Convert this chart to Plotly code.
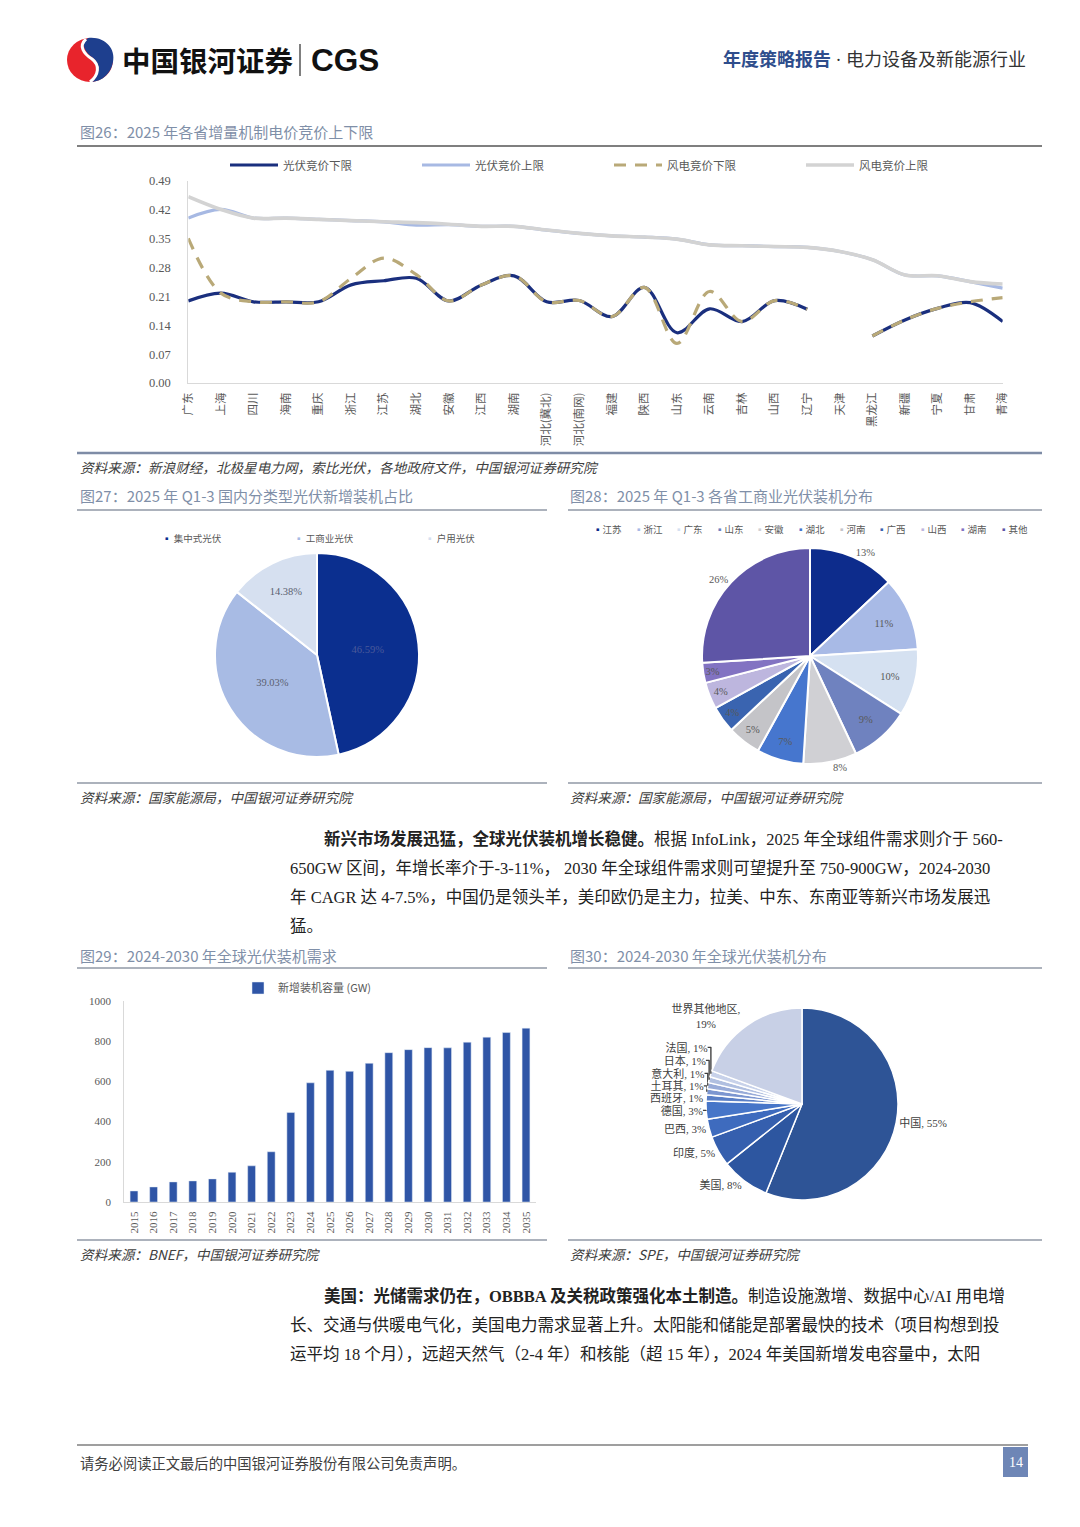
import plotly.graph_objects as go

# page body has an 8px margin: draw on a 1064x1511 paper so the page fills the 1080x1527 window
OFF = 8
W, H = 1080 - 2 * OFF, 1527 - 2 * OFF
def fx(p): return (p - OFF) / W
def fy(p): return 1 - (p - OFF) / H

SERIF = "Liberation Serif, Noto Sans CJK SC"
SANS = "Noto Sans CJK SC"

# ---------------- Figure 26 data ----------------
provinces = ["广东", "上海", "四川", "海南", "重庆", "浙江", "江苏", "湖北", "安徽", "江西", "湖南",
             "河北(冀北)", "河北(南网)", "福建", "陕西", "山东", "云南", "吉林", "山西", "辽宁", "天津",
             "黑龙江", "新疆", "宁夏", "甘肃", "青海"]
pv_low = [0.199, 0.218, 0.197, 0.197, 0.197, 0.238, 0.248, 0.254, 0.199, 0.238, 0.260, 0.197, 0.200,
          0.161, 0.232, 0.122, 0.180, 0.149, 0.200, 0.179, None, 0.114, 0.153, 0.181, 0.195, 0.149]
pv_high = [0.400, 0.421, 0.400, 0.400, 0.397, 0.394, 0.391, 0.383, 0.384, 0.380, 0.380, 0.371, 0.363,
           0.357, 0.354, 0.349, 0.335, 0.333, 0.331, 0.329, 0.319, 0.299, 0.262, 0.260, 0.246, 0.230]
wind_low = [0.351, 0.218, 0.197, 0.197, 0.197, 0.254, 0.303, 0.263, 0.199, 0.238, 0.260, 0.197, 0.200,
            0.161, 0.232, 0.096, 0.222, 0.149, 0.200, 0.179, None, 0.114, 0.153, 0.181, 0.197, 0.207]
wind_high = [0.452, 0.421, 0.400, 0.400, 0.397, 0.394, 0.391, 0.389, 0.385, 0.380, 0.380, 0.371, 0.363,
             0.357, 0.354, 0.349, 0.335, 0.333, 0.331, 0.329, 0.319, 0.299, 0.262, 0.260, 0.246, 0.240]
line_names = ["光伏竞价下限", "光伏竞价上限", "风电竞价下限", "风电竞价上限"]
y_ticks26 = [0.00, 0.07, 0.14, 0.21, 0.28, 0.35, 0.42, 0.49]

# ---------------- Figure 27 data ----------------
pie27_labels = ["集中式光伏", "工商业光伏", "户用光伏"]
pie27_values = [46.59, 39.03, 14.38]

# ---------------- Figure 28 data ----------------
pie28_labels = ["江苏", "浙江", "广东", "山东", "安徽", "湖北", "河南", "广西", "山西", "湖南", "其他"]
pie28_values = [13, 11, 10, 9, 8, 7, 5, 4, 4, 3, 26]

# ---------------- Figure 29 data ----------------
years = [str(y) for y in range(2015, 2036)]
capacity = [55, 75, 100, 105, 115, 148, 180, 250, 445, 593, 655, 650, 690, 743, 758, 768, 767, 795, 820, 843, 865]
bar_name = "新增装机容量 (GW)"

# ---------------- Figure 30 data ----------------
pie30_labels = ["中国", "美国", "印度", "巴西", "德国", "西班牙", "土耳其", "意大利", "日本", "法国", "世界其他地区"]
pie30_values = [55, 8, 5, 3, 3, 1, 1, 1, 1, 1, 19]

# ---------------- styles ----------------
line_colors = ["#1A2F7E", "#A7B9E3", "#B9A978", "#D3D3D3"]
line_dash = ["solid", "solid", "12px,9px", "solid"]
line_width = [3.2, 3.2, 3.2, 3.6]
pie27_colors = ["#0B2F8F", "#A8BBE4", "#D6E0F0"]
pie27_text = ["#4A5A9A", "#5A6070", "#5A6070"]
pie28_colors = ["#0D2C8C", "#A8BAE6", "#D5E1F1", "#6F82BF", "#D0D0D4", "#4676CE", "#C4C4C8",
                "#3A64B0", "#BDB6DE", "#8273C2", "#5E55A6"]
pie28_pos = ["outside", "inside", "inside", "inside", "outside", "inside", "inside", "inside",
             "inside", "inside", "outside"]
pie30_colors = ["#2E5496", "#2D56A0", "#355FAE", "#3E6BBE", "#4675C8", "#5A7FC6", "#7C96D0",
                "#98ABD8", "#B0BFE0", "#C8D2EA", "#C8D0E6"]
bar_color = "#2F55A6"

fig = go.Figure()

# line chart
series = [pv_low, pv_high, wind_low, wind_high]
for name, vals, c, d, w in zip(line_names, series, line_colors, line_dash, line_width):
    fig.add_trace(go.Scatter(x=provinces, y=vals, name=name, mode="lines",
                             line=dict(color=c, width=w, dash=d, shape="spline", smoothing=1.0),
                             connectgaps=False, xaxis="x", yaxis="y", legend="legend"))

# pie 27
fig.add_trace(go.Pie(labels=pie27_labels, values=pie27_values, sort=False, direction="clockwise",
                     text=[f"{v:.2f}%" for v in pie27_values], textinfo="text",
                     textposition="inside", insidetextorientation="horizontal",
                     textfont=dict(family=SERIF, size=10.5, color=pie27_text),
                     marker=dict(colors=pie27_colors, line=dict(color="white", width=2)),
                     domain=dict(x=[fx(215), fx(419)], y=[fy(757), fy(553)]),
                     showlegend=False, hoverinfo="label+value"))

# pie 28
fig.add_trace(go.Pie(labels=pie28_labels, values=pie28_values, sort=False, direction="clockwise",
                     text=[f"{v}%" for v in pie28_values], textinfo="text",
                     textposition=pie28_pos, insidetextorientation="horizontal",
                     textfont=dict(family=SERIF, size=10.5, color="#595959"),
                     outsidetextfont=dict(family=SERIF, size=10.5, color="#595959"),
                     marker=dict(colors=pie28_colors, line=dict(color="white", width=2)),
                     domain=dict(x=[fx(702), fx(918)], y=[fy(764), fy(548)]),
                     showlegend=False, hoverinfo="label+value"))

# bar 29
fig.add_trace(go.Bar(x=years, y=capacity, name=bar_name, marker=dict(color=bar_color),
                     xaxis="x2", yaxis="y2", legend="legend2"))

# pie 30
pie30_text = [(f"{l},<br>{v}%" if len(l) > 4 else f"{l}, {v}%") for l, v in zip(pie30_labels, pie30_values)]
fig.add_trace(go.Pie(labels=pie30_labels, values=pie30_values, sort=False, direction="clockwise",
                     text=pie30_text, textinfo="text", textposition="outside",
                     textfont=dict(family=SERIF, size=11, color="#404040"),
                     marker=dict(colors=pie30_colors, line=dict(color="white", width=1.5)),
                     domain=dict(x=[fx(706), fx(898)], y=[fy(1201), fy(1007)]),
                     showlegend=False, hoverinfo="label+value", automargin=False))

ann = []
def text(x, y, s, size=14, color="#404040", family=SANS, anchor="left", italic=False):
    if italic:
        s = f"<i>{s}</i>"
    ann.append(dict(x=fx(x), y=fy(y), xref="paper", yref="paper", text=s, showarrow=False,
                    xanchor=anchor, yanchor="middle", font=dict(size=size, color=color, family=family)))

# header
text(120, 60, "<b>中国银河证券</b>", size=28.5, color="#111111")
text(309, 60, "<b>CGS</b>", size=31.5, color="#111111", family="Liberation Sans, Arial")
text(1028, 60, "<b><span style='color:#2E4D8C'>年度策略报告</span></b><span style='color:#333333'> · 电力设备及新能源行业</span>",
     size=18, color="#333333", family=SERIF, anchor="right")

TCOL = "#7F8FA8"
TS = 15
SS = 13.6
text(78, 131, "图26：2025 年各省增量机制电价竞价上下限", size=TS, color=TCOL)
text(78, 467, "资料来源：新浪财经，北极星电力网，索比光伏，各地政府文件，中国银河证券研究院", size=SS, italic=True)
text(78, 496, "图27：2025 年 Q1-3 国内分类型光伏新增装机占比", size=TS, color=TCOL)
text(568, 496, "图28：2025 年 Q1-3 各省工商业光伏装机分布", size=TS, color=TCOL)
text(78, 797, "资料来源：国家能源局，中国银河证券研究院", size=SS, italic=True)
text(568, 797, "资料来源：国家能源局，中国银河证券研究院", size=SS, italic=True)
text(78, 955, "图29：2024-2030 年全球光伏装机需求", size=TS, color=TCOL)
text(568, 955, "图30：2024-2030 年全球光伏装机分布", size=TS, color=TCOL)
text(78, 1254, "资料来源：BNEF，中国银河证券研究院", size=SS, italic=True)
text(568, 1254, "资料来源：SPE，中国银河证券研究院", size=SS, italic=True)

BODY = "#222222"
BS = 16.5
para1 = ["<b>新兴市场发展迅猛，全球光伏装机增长稳健。</b>根据 InfoLink，2025 年全球组件需求则介于 560-",
         "650GW 区间，年增长率介于-3-11%， 2030 年全球组件需求则可望提升至 750-900GW，2024-2030",
         "年 CAGR 达 4-7.5%，中国仍是领头羊，美印欧仍是主力，拉美、中东、东南亚等新兴市场发展迅",
         "猛。"]
for i, s in enumerate(para1):
    text(322 if i == 0 else 288, 839 + i * 29.3, s, size=BS, color=BODY, family=SERIF)
para2 = ["<b>美国：光储需求仍在，OBBBA 及关税政策强化本土制造。</b>制造设施激增、数据中心/AI 用电增",
         "长、交通与供暖电气化，美国电力需求显著上升。太阳能和储能是部署最快的技术（项目构想到投",
         "运平均 18 个月），远超天然气（2-4 年）和核能（超 15 年），2024 年美国新增发电容量中，太阳"]
for i, s in enumerate(para2):
    text(322 if i == 0 else 288, 1296 + i * 29.3, s, size=BS, color=BODY, family=SERIF)

text(78, 1462, "请务必阅读正文最后的中国银河证券股份有限公司免责声明。", size=14.3, color="#404040")
text(1015.5, 1462, "14", size=14, color="white", family=SERIF, anchor="center")

# manual pie legends (from data)
for i, (lab, col) in enumerate(zip(pie27_labels, pie27_colors)):
    text(160 + i * 131.5, 538, f"<span style='color:{col}'>▪</span> {lab}", size=9.5, color="#595959")
for i, (lab, col) in enumerate(zip(pie28_labels, pie28_colors)):
    text(591 + i * 40.6, 529, f"<span style='color:{col}'>▪</span>{lab}", size=9.5, color="#595959")

shapes = []
def hline(x0, x1, y, color, width):
    shapes.append(dict(type="line", xref="paper", yref="paper", x0=fx(x0), x1=fx(x1), y0=fy(y), y1=fy(y),
                       line=dict(color=color, width=width)))
hline(77, 1042, 146, "#7F7F7F", 2)
hline(77, 1042, 453, "#7E8CA6", 2.5)
for y in (510, 783, 968, 1240):
    hline(77, 547, y, "#9098A6", 1.6)
    hline(568, 1042, y, "#9098A6", 1.6)
hline(77, 1028, 1445, "#7F7F7F", 1.5)
shapes.append(dict(type="rect", xref="paper", yref="paper", x0=fx(1003), x1=fx(1028), y0=fy(1477), y1=fy(1447),
                   fillcolor="#6E86B6", line=dict(width=0), layer="below"))
# header divider
shapes.append(dict(type="line", xref="paper", yref="paper", x0=fx(300), x1=fx(300), y0=fy(44), y1=fy(76),
                   line=dict(color="#555555", width=1.5)))

# logo
def pth(pts):
    out = []
    for cmd, coords in pts:
        if coords:
            out.append(cmd + " " + " ".join(f"{fx(a):.5f},{fy(b):.5f}" for a, b in coords))
        else:
            out.append(cmd)
    return " ".join(out)
shapes.append(dict(type="circle", xref="paper", yref="paper", x0=fx(67), x1=fx(113), y0=fy(82), y1=fy(38),
                   fillcolor="#E8242C", line=dict(width=0)))
blue = pth([("M", [(88, 38)]), ("C", [(104, 36), (116, 48), (113, 62)]), ("C", [(111, 74), (102, 81), (92, 82)]),
            ("C", [(100, 74), (101, 64), (93, 58)]), ("C", [(85, 52), (80, 44), (88, 38)]), ("Z", None)])
shapes.append(dict(type="path", xref="paper", yref="paper", path=blue, fillcolor="#1E3F8E", line=dict(width=0)))
swoosh = pth([("M", [(86, 39)]), ("C", [(78, 46), (84, 54), (92, 59)]), ("C", [(100, 65), (99, 75), (90, 82)])])
shapes.append(dict(type="path", xref="paper", yref="paper", path=swoosh, line=dict(color="white", width=3)))

fig.update_layout(
    width=W, height=H, autosize=False, margin=dict(l=0, r=0, t=0, b=0, pad=0, autoexpand=False),
    paper_bgcolor="white", plot_bgcolor="white",
    font=dict(family=SERIF, size=12, color="#595959"),
    xaxis=dict(domain=[fx(188.3), fx(1002.7)], type="category", showgrid=False, showline=True,
               linecolor="#D9D9D9", linewidth=1, tickangle=-90, ticks="", ticklabelstandoff=4,
               automargin=False,
               tickfont=dict(family=SANS, size=11.5, color="#595959"), fixedrange=True),
    yaxis=dict(domain=[fy(383), fy(181)], range=[0, 0.49], tickvals=y_ticks26, tickformat=".2f",
               showgrid=False, showline=True, linecolor="#D9D9D9", linewidth=1, zeroline=False, ticks="",
               automargin=False,
               ticklabelstandoff=14, tickfont=dict(family=SERIF, size=12.5, color="#595959")),
    xaxis2=dict(domain=[fx(124.2), fx(535.8)], type="category", showgrid=False, showline=True,
                linecolor="#D9D9D9", tickangle=-90, ticks="", ticklabelstandoff=4, anchor="y2",
                automargin=False,
                tickfont=dict(family=SERIF, size=11, color="#595959")),
    yaxis2=dict(domain=[fy(1202), fy(1001)], range=[0, 1000], dtick=200, showgrid=False, showline=True,
                linecolor="#D9D9D9", zeroline=False, ticks="", anchor="x2", ticklabelstandoff=10,
                automargin=False,
                tickfont=dict(family=SERIF, size=11, color="#595959")),
    bargap=0.6,
    legend=dict(orientation="h", x=fx(225), y=fy(165), xanchor="left", yanchor="middle",
                entrywidth=129, itemwidth=48, font=dict(family=SANS, size=11.5, color="#595959"),
                bgcolor="rgba(0,0,0,0)"),
    legend2=dict(orientation="h", x=fx(238), y=fy(988), xanchor="left", yanchor="middle",
                 font=dict(family=SANS, size=11, color="#595959"), bgcolor="rgba(0,0,0,0)"),
    annotations=ann, shapes=shapes, showlegend=True,
)

fig.write_html("out.html")
